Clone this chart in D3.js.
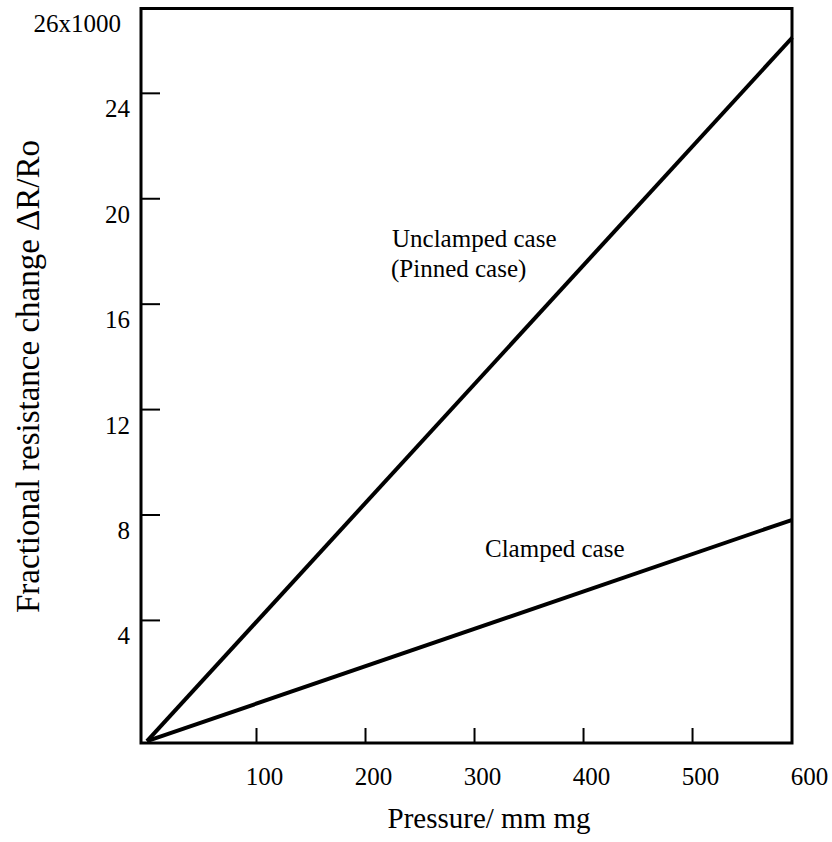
<!DOCTYPE html>
<html>
<head>
<meta charset="utf-8">
<script src="https://cdn.jsdelivr.net/npm/d3@7"></script>
<style>
  body { margin: 0; background: #fff; }
  svg text { font-family: "Liberation Serif", "DejaVu Serif", serif; fill: #000; }
</style>
</head>
<body>
<div id="chart"></div>
<script>
// values (y in units of 1/1000)
var pressure = [0, 592];
var unclamped = [-0.6, 26.1];
var clamped = [-0.6, 7.8];
var xTicks = [100, 200, 300, 400, 500, 600];
var yTicks = [4, 8, 12, 16, 20, 24];
var yTopLabel = "26x1000";

var width = 832, height = 842;
var serif = "Liberation Serif, serif";

var svg = d3.select("#chart")
    .append("svg")
    .attr("width", width)
    .attr("height", height)
    .attr("font-family", serif);

// scales fitted so the ticks land where the scan shows them
var x = d3.scaleLinear()
    .domain([-5.5, 591.7])
    .range([141, 792]);

var y = d3.scaleLinear()
    .domain([-0.67, 27.2])
    .range([743, 8.5]);

// x axis, ticks pointing up into the plot
var xAxis = d3.axisBottom(x)
    .tickValues(xTicks)
    .tickSizeInner(-15)
    .tickSizeOuter(0)
    .tickPadding(0);

var gx = svg.append("g")
    .attr("transform", "translate(0," + y.range()[0] + ")")
    .call(xAxis)
    .attr("font-family", serif)
    .attr("font-size", 25);
gx.select(".domain").remove();
gx.selectAll(".tick line")
    .attr("stroke", "#000")
    .attr("stroke-width", 2)
    .filter(function(d) { return x(d) > x.range()[1]; })
    .remove();
gx.selectAll(".tick text")
    .attr("dx", 8)
    .attr("y", 42)
    .attr("dy", 0);

// y axis, ticks pointing right into the plot
var yAxis = d3.axisLeft(y)
    .tickValues(yTicks)
    .tickSizeInner(-19)
    .tickSizeOuter(0)
    .tickPadding(0);

var gy = svg.append("g")
    .attr("transform", "translate(" + x.range()[0] + ",0)")
    .call(yAxis)
    .attr("font-family", serif)
    .attr("font-size", 25);
gy.select(".domain").remove();
gy.selectAll(".tick line")
    .attr("stroke", "#000")
    .attr("stroke-width", 2);
gy.selectAll(".tick text")
    .attr("x", -11)
    .attr("dy", "0.32em")
    .attr("transform", "translate(0,16)");

svg.append("text")
    .attr("x", x.range()[0] - 20)
    .attr("y", y(26) - 17)
    .attr("dy", "0.35em")
    .attr("text-anchor", "end")
    .attr("font-size", 25)
    .text(yTopLabel);

// frame
svg.append("rect")
    .attr("x", x.range()[0])
    .attr("y", y.range()[1])
    .attr("width", x.range()[1] - x.range()[0])
    .attr("height", y.range()[0] - y.range()[1])
    .attr("fill", "none")
    .attr("stroke", "#000")
    .attr("stroke-width", 3);

// the two response lines
var line = d3.line()
    .x(function(d) { return x(d[0]); })
    .y(function(d) { return y(d[1]); });

[unclamped, clamped].forEach(function(series) {
  svg.append("path")
      .datum(pressure.map(function(p, i) { return [p, series[i]]; }))
      .attr("d", line)
      .attr("fill", "none")
      .attr("stroke", "#000")
      .attr("stroke-width", 4);
});

// annotations
svg.append("text")
    .attr("x", 392)
    .attr("y", 247)
    .attr("font-size", 25)
    .text("Unclamped case");
svg.append("text")
    .attr("x", 391)
    .attr("y", 277)
    .attr("font-size", 25)
    .text("(Pinned case)");
svg.append("text")
    .attr("x", 485)
    .attr("y", 557)
    .attr("font-size", 25)
    .text("Clamped case");

// axis titles
svg.append("text")
    .attr("x", 489)
    .attr("y", 828)
    .attr("text-anchor", "middle")
    .attr("font-size", 29)
    .text("Pressure/ mm mg");

svg.append("text")
    .attr("transform", "translate(39,613) rotate(-90)")
    .attr("font-size", 33)
    .text("Fractional resistance change  \u0394R/Ro");
</script>
</body>
</html>
